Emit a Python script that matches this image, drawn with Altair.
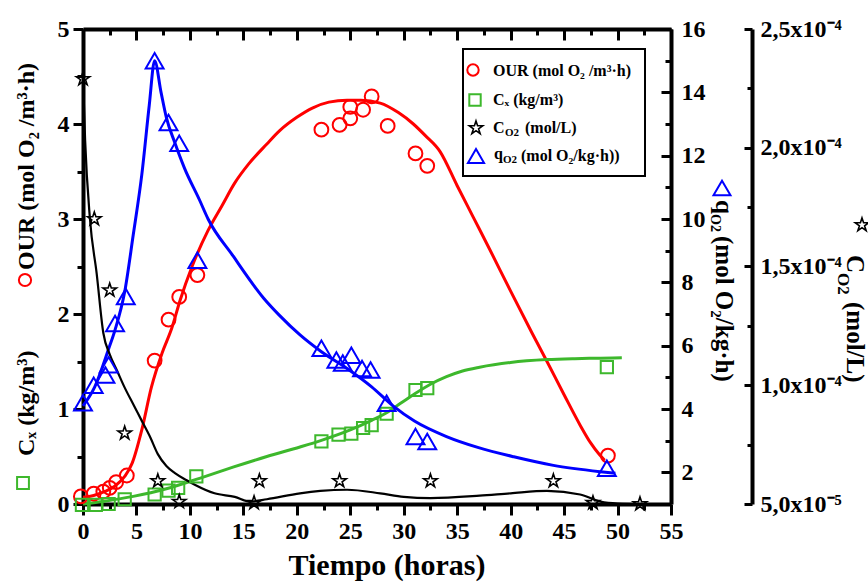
import altair as alt
import pandas as pd

FONT = "Liberation Serif, Times New Roman, Times, serif"
W, H = 588, 475
OX, OY = 83, 29

# ---------------- data ----------------
our_pt_t = [-0.2, 1.0, 1.9, 2.5, 3.1, 4.1, 6.7, 8.0, 9.0, 10.7, 22.3, 24.0, 25.0, 25.0, 26.2, 27.0, 28.5, 31.1, 32.2, 49.1]
our_pt_v = [0.08, 0.11, 0.13, 0.17, 0.23, 0.30, 1.51, 1.94, 2.18, 2.41, 3.94, 3.99, 4.06, 4.18, 4.15, 4.29, 3.98, 3.69, 3.56, 0.51]
our_fit_t = [0, 1, 2, 3, 3.9, 4.6, 5.5, 6.4, 7.4, 8.3, 9.1, 10.2, 11.7, 13.0, 14.2, 15.5, 17.2, 18.4, 20.0, 21.5,
             23.0, 24.7, 26.0, 27.8, 29.5, 30.9, 32.0, 33.4, 35.0, 36.5, 38.0, 40.0, 42.0, 43.4, 45.0, 46.5, 47.5, 48.3, 48.8]
our_fit_v = [0.07, 0.09, 0.13, 0.19, 0.29, 0.43, 0.78, 1.23, 1.59, 1.85, 2.15, 2.50, 2.88, 3.14, 3.38, 3.58, 3.79, 3.93, 4.07, 4.17,
             4.23, 4.25, 4.25, 4.22, 4.12, 4.00, 3.88, 3.71, 3.35, 3.02, 2.69, 2.24, 1.80, 1.50, 1.15, 0.83, 0.64, 0.52, 0.46]

cx_pt_t = [-0.1, 1.2, 2.4, 3.9, 6.7, 8.0, 8.9, 10.6, 22.3, 23.9, 25.1, 26.2, 27.0, 28.4, 31.1, 32.2, 49.0]
cx_pt_v = [-0.01, -0.01, 0.0, 0.05, 0.10, 0.14, 0.17, 0.29, 0.66, 0.73, 0.74, 0.80, 0.83, 0.95, 1.20, 1.22, 1.44]
cx_fit_t = [0, 2, 4.7, 7.8, 10.9, 14.1, 17.2, 20.3, 22.3, 25.0, 27.0, 28.4, 29.7, 30.9, 32.5, 34.0, 35.5, 37.1, 40.0, 43.4, 46.0, 48.4, 50.4]
cx_fit_v = [0.0, 0.03, 0.08, 0.16, 0.27, 0.39, 0.50, 0.60, 0.67, 0.78, 0.88, 0.96, 1.06, 1.15, 1.26, 1.34, 1.40, 1.44, 1.49, 1.52, 1.53, 1.535, 1.54]

q_pt_t = [0.0, 1.0, 2.1, 2.4, 3.0, 4.0, 6.7, 8.0, 9.0, 10.7, 22.3, 23.7, 24.3, 25.1, 26.1, 26.9, 28.4, 31.1, 32.2, 49.0]
q_pt_v = [4.2, 4.75, 5.07, 5.4, 6.7, 7.55, 15.0, 13.05, 12.39, 8.7, 5.92, 5.55, 5.45, 5.70, 5.28, 5.23, 4.18, 3.13, 2.97, 2.13]
q_fit_t = [0, 1.1, 2.4, 3.0, 3.9, 4.7, 5.5, 6.2, 6.7, 7.3, 7.8, 8.6, 9.5, 10.9, 11.7, 14.0, 16.9, 18.4, 20.3, 22.3,
           24.7, 27.0, 29.0, 31.0, 34.0, 37.0, 40.3, 44.0, 48.4, 49.8]
q_fit_v = [4.1, 4.7, 5.9, 6.5, 7.7, 9.5, 11.4, 13.6, 15.0, 14.0, 13.2, 12.4, 11.6, 10.6, 10.0, 8.85, 7.5, 6.95, 6.34, 5.81,
           5.28, 4.70, 4.10, 3.62, 3.13, 2.78, 2.49, 2.22, 2.02, 1.97]

c_pt_t = [0.0, 1.06, 2.5, 3.9, 7.0, 9.0, 16.0, 16.5, 24.0, 32.5, 44.0, 47.7, 52.1]
c_pt_v = [2.29e-4, 1.70e-4, 1.40e-4, 7.98e-5, 5.97e-5, 5.1e-5, 5.05e-5, 5.97e-5, 5.97e-5, 5.97e-5, 5.97e-5, 5.05e-5, 5.0e-5]
c_fit_t = [0, 0.2, 0.65, 1.28, 1.9, 2.5, 3.2, 3.9, 4.7, 5.5, 6.3, 7.0, 7.8, 8.6, 9.7, 10.5, 12.3, 14.2, 15.6, 17.2,
           20.3, 22.2, 24.7, 27.8, 30.0, 32.5, 37.1, 40.0, 43.4, 46.5, 48.4, 50.0, 52.3]
c_fit_v = [2.30e-4, 2.03e-4, 1.70e-4, 1.47e-4, 1.22e-4, 1.13e-4, 1.06e-4, 9.9e-5, 9.2e-5, 8.5e-5, 7.8e-5, 7.1e-5, 6.6e-5, 6.3e-5,
           6.0e-5, 5.8e-5, 5.45e-5, 5.3e-5, 5.1e-5, 5.2e-5, 5.45e-5, 5.55e-5, 5.6e-5, 5.45e-5, 5.3e-5, 5.25e-5, 5.35e-5, 5.45e-5,
           5.55e-5, 5.4e-5, 5.1e-5, 5.02e-5, 5.0e-5]

x_ticks = [i * 2.5 for i in range(23)]
l_ticks = [i * 0.5 for i in range(11)]
q_ticks = list(range(1, 17))
q_labels = list(range(2, 17, 2))
c_ticks = [5e-5 + i * 2.5e-5 for i in range(9)]
c_labels = [5e-5, 1e-4, 1.5e-4, 2e-4, 2.5e-4]

RED, GREEN, BLUE, BLACK = "#FF0000", "#3DB82C", "#0000FF", "#000000"
STAR = ("M0,-1L0.225,-0.309L0.951,-0.309L0.363,0.118L0.588,0.809L0,0.382"
        "L-0.588,0.809L-0.363,0.118L-0.951,-0.309L-0.225,-0.309Z")

# ---------------- scales / axes ----------------
xsc = alt.Scale(domain=[0, 55], nice=False, zero=False)
lsc = alt.Scale(domain=[0, 5], nice=False, zero=False)
qsc = alt.Scale(domain=[1, 16], nice=False, zero=False)
csc = alt.Scale(domain=[5e-5, 2.5e-4], nice=False, zero=False)

AX = dict(domainColor="black", domainWidth=4, tickColor="black", tickWidth=3,
          labelFont=FONT, labelFontSize=24, labelFontWeight="bold", labelColor="black",
          title=None, grid=False, labelOverlap=False, labelFlush=False)


def tsize(test, big, small):
    return {"condition": {"test": test, "value": big}, "value": small}


ax_bottom = alt.Axis(orient="bottom", values=x_ticks, tickSize=tsize("datum.value % 5 === 0", 11, 6),
                     labelExpr="datum.value % 5 === 0 ? format(datum.value, 'd') : ''", labelPadding=4, **AX)
ax_top = alt.Axis(orient="bottom", offset=-H, values=x_ticks, tickSize=tsize("datum.value % 5 === 0", 11, 6),
                  labels=False, **AX)
ax_left = alt.Axis(orient="left", values=l_ticks, tickSize=tsize("datum.value % 1 === 0", 10, 6),
                   labelExpr="datum.value % 1 === 0 ? format(datum.value, 'd') : ''", labelPadding=4, **AX)
ax_q_lab = alt.Axis(orient="right", values=q_labels, ticks=False, labelPadding=10,
                    labelExpr="format(datum.value, 'd')", **AX)
ax_q_tick = alt.Axis(orient="left", offset=-W, values=q_ticks, tickSize=tsize("datum.value % 2 === 0", 10, 6),
                     labels=False, domain=False, **AX)
ax_c_lab = alt.Axis(orient="right", offset=81, values=c_labels, ticks=False, labelPadding=8,
                    labelExpr="datum.value < 7e-5 ? '5,0x10⁻⁵' : replace(format(datum.value * 10000, '.1f'), '.', ',') + 'x10⁻⁴'",
                    **AX)
ax_c_tick = alt.Axis(orient="left", offset=-(W + 81), values=c_ticks,
                     tickSize=tsize("round(datum.value * 100000) % 5 === 0", 8, 5),
                     labels=False, domain=False, **AX)


def df(t, v):
    return pd.DataFrame({"t": t, "v": v})


def line(t, v, ysc, color, sw, xaxis=None, yaxis=None):
    return alt.Chart(df(t, v)).mark_line(color=color, strokeWidth=sw, interpolate="monotone").encode(
        x=alt.X("t:Q", scale=xsc, axis=xaxis), y=alt.Y("v:Q", scale=ysc, axis=yaxis))


def pts(t, v, ysc, shape, color, size, sw, yaxis=None):
    return alt.Chart(df(t, v)).mark_point(shape=shape, color=color, size=size, strokeWidth=sw,
                                          filled=False, opacity=1).encode(
        x=alt.X("t:Q", scale=xsc, axis=None), y=alt.Y("v:Q", scale=ysc, axis=yaxis))


def txt(s, x, y, size=25, angle=0, align="left", color="black"):
    return alt.Chart(pd.DataFrame({"a": [0]})).mark_text(
        text=s, font=FONT, fontSize=size, fontWeight="bold", angle=angle, align=align,
        baseline="middle", color=color).encode(x=alt.value(x - OX), y=alt.value(y - OY))


def sym(shape, x, y, color, size, sw=2):
    return alt.Chart(pd.DataFrame({"a": [0]})).mark_point(
        shape=shape, color=color, size=size, strokeWidth=sw, filled=False, opacity=1).encode(
        x=alt.value(x - OX), y=alt.value(y - OY))


layers = [
    line(our_fit_t, our_fit_v, lsc, RED, 3, xaxis=ax_bottom, yaxis=ax_left),
    line(cx_fit_t, cx_fit_v, lsc, GREEN, 3, xaxis=ax_top),
    line(q_fit_t, q_fit_v, qsc, BLUE, 3, yaxis=ax_q_lab),
    line(c_fit_t, c_fit_v, csc, BLACK, 2.2, yaxis=ax_c_lab),
    pts(our_pt_t, our_pt_v, lsc, "circle", RED, 190, 2),
    pts(cx_pt_t, cx_pt_v, lsc, "square", GREEN, 150, 2),
    pts(q_pt_t, q_pt_v, qsc, "triangle-up", BLUE, 320, 2, yaxis=ax_q_tick),
    pts(c_pt_t, c_pt_v, csc, STAR, BLACK, 200, 1.6, yaxis=ax_c_tick),
]

# legend box
layers.append(alt.Chart(pd.DataFrame({"a": [0]})).mark_rect(fill="white", stroke="black", strokeWidth=2).encode(
    x=alt.value(463 - OX), x2=alt.value(645 - OX), y=alt.value(49 - OY), y2=alt.value(176 - OY)))
LF = 16
layers += [
    sym("circle", 473, 70, RED, 130),
    txt("OUR (mol O₂ /m³·h)", 493, 71, LF),
    sym("square", 475, 100, GREEN, 130),
    txt("Cₓ (kg/m³)", 493, 100, LF),
    sym(STAR, 476, 128, BLACK, 200, 1.6),
    txt("C", 493, 128, LF), txt("O2", 505, 133, 11), txt("(mol/L)", 525, 128, LF),
    sym("triangle-up", 476, 156, BLUE, 260),
    txt("q", 494, 154, LF), txt("O2", 503, 160, 11), txt("(mol O₂/kg·h))", 521, 156, LF),
]

# left title (rotated, reading upward)
layers += [
    sym("square", 23, 483, GREEN, 140),
    txt("Cₓ (kg/m³)", 27, 456, 24, 270),
    sym("circle", 25, 280, RED, 150),
    txt("OUR (mol O₂ /m³·h)", 27, 270, 24, 270),
]
# right title (rotated, reading downward)
layers += [
    sym("triangle-up", 722, 188, BLUE, 289),
    txt("q", 724, 200, 25, 90), txt("O2", 715, 214, 14, 90),
    txt("(mol O₂/kg·h)", 724, 236, 25, 90),
]
# far-right title
layers += [
    sym(STAR, 862, 225, BLACK, 200, 1.6),
    txt("C", 855, 255, 25, 90), txt("O2", 843, 273, 17, 90), txt("(mol/L)", 855, 302, 25, 90),
]
# x title
layers.append(txt("Tiempo (horas)", 387, 566, 30, 0, "center"))

chart = alt.layer(*layers).resolve_scale(x="independent", y="independent").properties(
    width=W, height=H,
    autosize=alt.AutoSizeParams(type="none"),
    padding={"left": OX, "top": OY, "right": 868 - OX - W, "bottom": 582 - OY - H},
).configure_view(stroke=None)

chart.save("out.html", embed_options={"renderer": "svg", "actions": False})
